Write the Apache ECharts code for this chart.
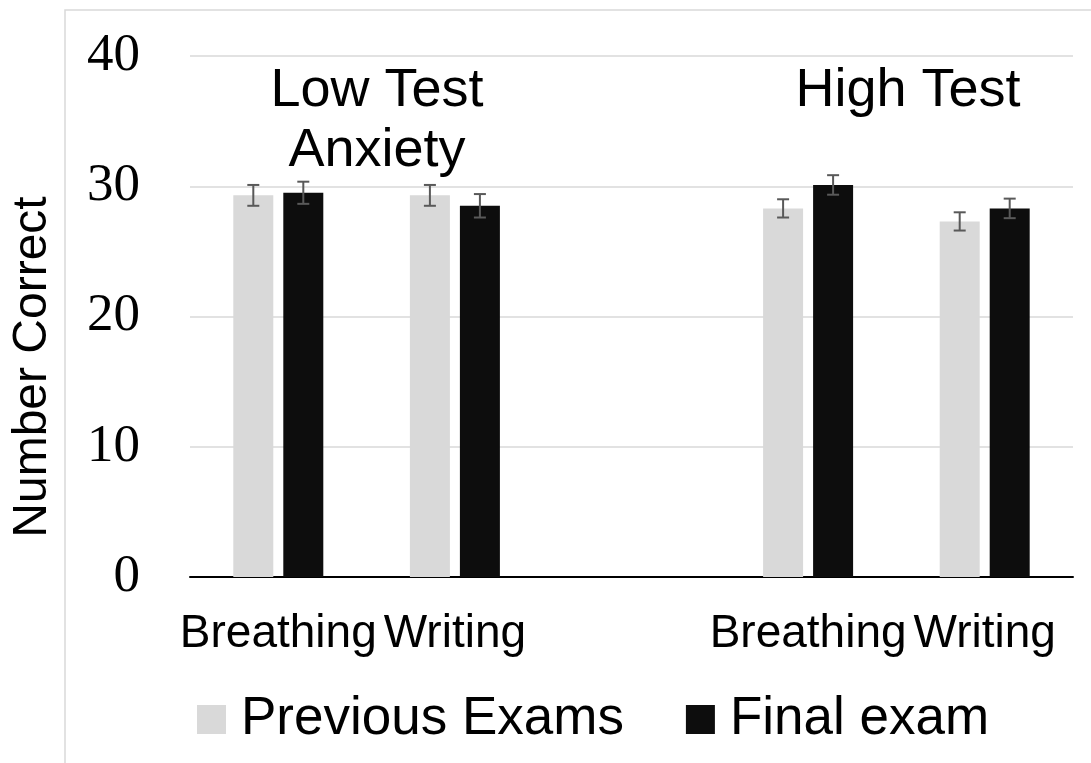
<!DOCTYPE html>
<html>
<head>
<meta charset="utf-8">
<script src="https://cdn.jsdelivr.net/npm/echarts@6/dist/echarts.min.js"></script>
<style>
    html, body { margin: 0; padding: 0; background: #fff; }
    #bar-box { width: 1091px; height: 763px; }
</style>
</head>
<body>
<div id="bar-box"></div>
<script>
    // categories (the blank one is the gap between the two anxiety groups)
    const categories = ['Breathing', 'Writing', '', 'Breathing', 'Writing'];

    const previousExams = [29.3, 29.3, null, 28.3, 27.3];
    const finalExam = [29.5, 28.5, null, 30.1, 28.3];

    // +/- error for each bar
    const previousErr = [0.8, 0.8, null, 0.7, 0.7];
    const finalErr = [0.85, 0.9, null, 0.75, 0.75];

    const yTicks = [0, 10, 20, 30, 40];

    const BAR_W = 40;
    const GAP = 10;

    function errorSeries(name, values, errs, side) {
        let rows = [];
        values.forEach(function (v, i) {
            if (v != null) rows.push([i, v - errs[i], v + errs[i]]);
        });
        return {
            name: name,
            type: 'custom',
            silent: true,
            z: 10,
            data: rows,
            renderItem: function (params, api) {
                let lo = api.coord([api.value(0), api.value(1)]);
                let hi = api.coord([api.value(0), api.value(2)]);
                let x = lo[0] + side * (BAR_W + GAP) / 2;
                let half = 6;
                let style = { stroke: '#595959', lineWidth: 2 };
                return {
                    type: 'group',
                    children: [
                        { type: 'line', shape: { x1: x, y1: hi[1], x2: x, y2: lo[1] }, style: style },
                        { type: 'line', shape: { x1: x - half, y1: hi[1], x2: x + half, y2: hi[1] }, style: style },
                        { type: 'line', shape: { x1: x - half, y1: lo[1], x2: x + half, y2: lo[1] }, style: style }
                    ]
                };
            }
        };
    }

    let myChart = echarts.init(document.getElementById('bar-box'));

    let option = {
        animation: false,
        backgroundColor: '#fff',
        textStyle: { fontFamily: 'Liberation Sans' },
        grid: { left: 190, right: 18, top: 56, bottom: 186 },
        legend: {
            left: 192,
            top: 688,
            itemWidth: 29,
            itemHeight: 29,
            itemGap: 62,
            icon: 'rect',
            data: ['Previous Exams', 'Final exam'],
            textStyle: {
                fontFamily: 'Liberation Sans',
                fontSize: 53,
                color: '#000',
                padding: [0, 0, 0, 10]
            }
        },
        xAxis: {
            type: 'category',
            data: categories,
            axisLine: { lineStyle: { color: '#000', width: 2 } },
            axisTick: { show: false },
            axisLabel: {
                interval: 0,
                margin: 34,
                fontFamily: 'Liberation Sans',
                fontSize: 46,
                color: '#000'
            }
        },
        yAxis: {
            type: 'value',
            min: yTicks[0],
            max: yTicks[yTicks.length - 1],
            interval: 10,
            axisLine: { show: false },
            axisTick: { show: false },
            axisLabel: {
                margin: 50,
                fontFamily: 'Liberation Serif',
                fontSize: 53,
                color: '#000'
            },
            splitLine: { lineStyle: { color: '#d9d9d9', width: 1.5 } }
        },
        graphic: [
            {
                type: 'rect',
                silent: true,
                shape: { x: 65, y: 10, width: 1100, height: 800 },
                style: { fill: null, stroke: '#d9d9d9', lineWidth: 1.5 },
                z: -1
            },
            {
                // y axis title
                type: 'text',
                x: 33,
                y: 367,
                rotation: Math.PI / 2,
                style: {
                    text: 'Number Correct',
                    font: '48px "Liberation Sans"',
                    fill: '#000',
                    align: 'center',
                    verticalAlign: 'middle'
                }
            },
            {
                type: 'text',
                x: 377,
                y: 61,
                style: {
                    text: 'Low Test\nAnxiety',
                    font: '54px "Liberation Sans"',
                    fill: '#000',
                    align: 'center',
                    verticalAlign: 'top',
                    lineHeight: 60
                }
            },
            {
                type: 'text',
                x: 908,
                y: 61,
                style: {
                    text: 'High Test',
                    font: '54px "Liberation Sans"',
                    fill: '#000',
                    align: 'center',
                    verticalAlign: 'top',
                    lineHeight: 60
                }
            }
        ],
        series: [
            {
                name: 'Previous Exams',
                type: 'bar',
                barWidth: BAR_W,
                barGap: (GAP / BAR_W * 100) + '%',
                itemStyle: { color: '#d9d9d9' },
                data: previousExams
            },
            {
                name: 'Final exam',
                type: 'bar',
                barWidth: BAR_W,
                itemStyle: { color: '#0d0d0d' },
                data: finalExam
            },
            errorSeries('prevErr', previousExams, previousErr, -1),
            errorSeries('finalErr', finalExam, finalErr, 1)
        ]
    };

    myChart.setOption(option, true);
</script>
</body>
</html>
